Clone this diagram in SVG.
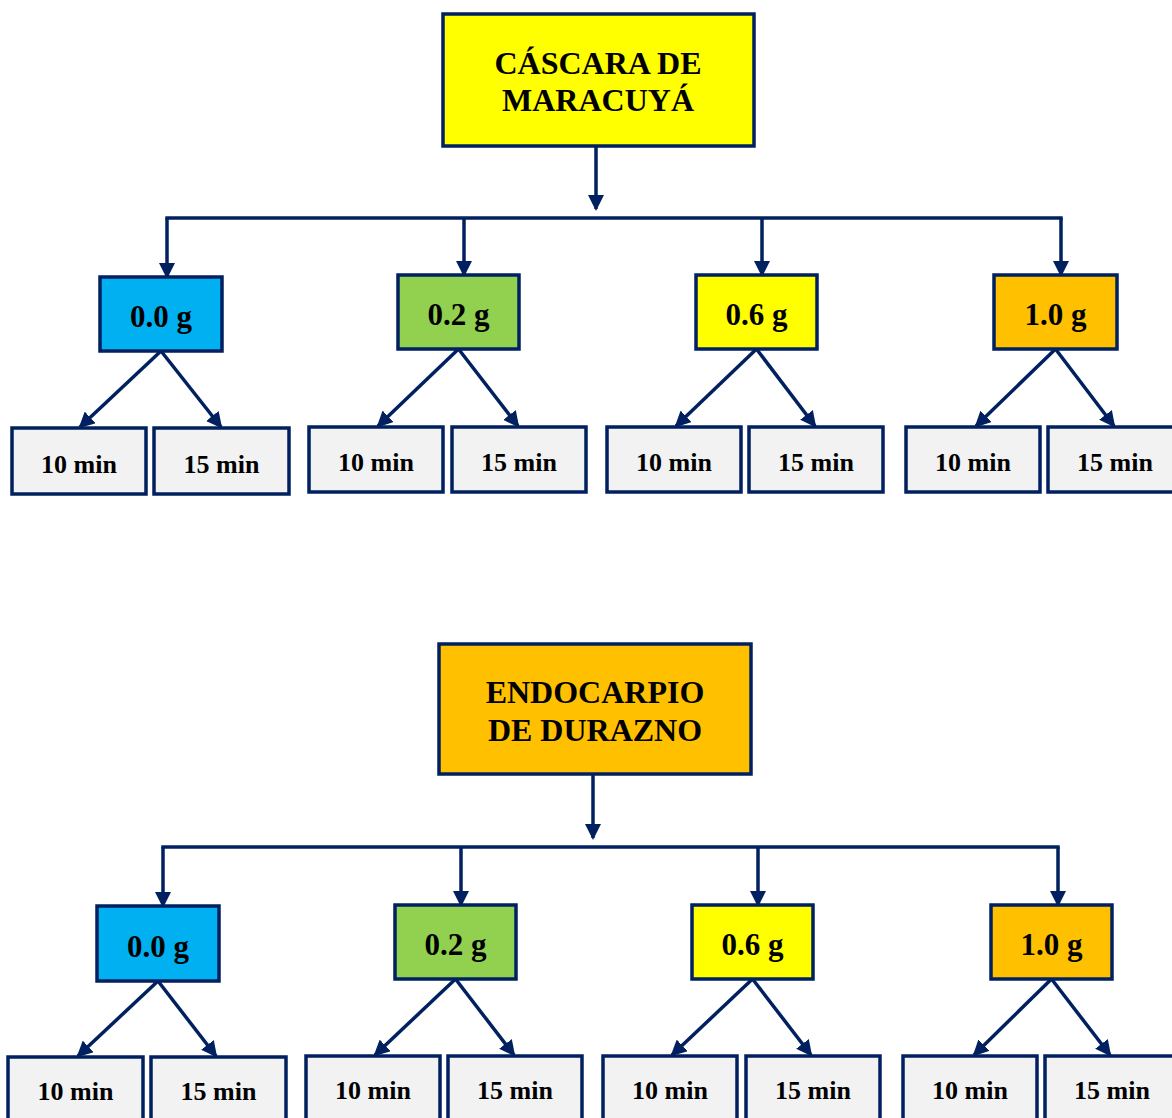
<svg xmlns="http://www.w3.org/2000/svg" width="1172" height="1118" viewBox="0 0 1172 1118">
<defs>
<marker id="ah" markerUnits="userSpaceOnUse" markerWidth="16" markerHeight="16" viewBox="0 0 16 16" refX="14" refY="8" orient="auto">
<path d="M0,0 L16,8 L0,16 z" fill="#002060"/>
</marker>
<style>
.bx{stroke:#002060;stroke-width:3.5}
.yel{fill:#FFFF00}.org{fill:#FFC000}.blu{fill:#00B0F0}.grn{fill:#92D050}.gry{fill:#F2F2F2}
.t{font-family:"Liberation Serif","Times New Roman",serif;font-weight:bold;fill:#000;text-anchor:middle}
.tt{font-size:32px}.tm{font-size:31px}.ts{font-size:26px}
.c line{stroke:#002060;stroke-width:3.5;fill:none}
.c .a{marker-end:url(#ah)}
</style>
</defs>
<rect width="1172" height="1118" fill="#fff"/>

<g class="c" id="connectors">
<line class="a" x1="596" y1="146" x2="596" y2="209"/>
<line x1="165.3" y1="218" x2="1062.7" y2="218"/>
<line class="a" x1="167" y1="218" x2="167" y2="277"/>
<line class="a" x1="464" y1="218" x2="464" y2="275"/>
<line class="a" x1="762" y1="218" x2="762" y2="275"/>
<line class="a" x1="1061" y1="218" x2="1061" y2="275"/>
<line class="a" x1="161" y1="351" x2="80" y2="427"/>
<line class="a" x1="161" y1="351" x2="221" y2="427"/>
<line class="a" x1="458.5" y1="349" x2="378" y2="426"/>
<line class="a" x1="458.5" y1="349" x2="518" y2="426"/>
<line class="a" x1="756.5" y1="349" x2="676" y2="426"/>
<line class="a" x1="756.5" y1="349" x2="815" y2="426"/>
<line class="a" x1="1055.5" y1="349" x2="976" y2="426"/>
<line class="a" x1="1055.5" y1="349" x2="1114" y2="426"/>

<line class="a" x1="593" y1="774" x2="593" y2="838"/>
<line x1="161.3" y1="847" x2="1059.7" y2="847"/>
<line class="a" x1="163" y1="847" x2="163" y2="906"/>
<line class="a" x1="461" y1="847" x2="461" y2="905"/>
<line class="a" x1="758" y1="847" x2="758" y2="905"/>
<line class="a" x1="1058" y1="847" x2="1058" y2="905"/>
<line class="a" x1="158" y1="981" x2="78" y2="1056"/>
<line class="a" x1="158" y1="981" x2="216" y2="1056"/>
<line class="a" x1="455.5" y1="979" x2="375" y2="1055"/>
<line class="a" x1="455.5" y1="979" x2="514" y2="1055"/>
<line class="a" x1="752.5" y1="979" x2="672" y2="1055"/>
<line class="a" x1="752.5" y1="979" x2="811" y2="1055"/>
<line class="a" x1="1051.5" y1="979" x2="974" y2="1055"/>
<line class="a" x1="1051.5" y1="979" x2="1110" y2="1055"/>
</g>

<g id="n-cascara"><rect class="bx yel" x="443" y="14" width="311" height="132"/>
<text class="t tt" x="598" y="74">CÁSCARA DE</text><text class="t tt" x="598" y="111">MARACUYÁ</text></g>

<g id="n-a00"><rect class="bx blu" x="100" y="277" width="122" height="74"/><text class="t tm" x="161" y="327">0.0 g</text></g>
<g id="n-a02"><rect class="bx grn" x="398" y="275" width="121" height="74"/><text class="t tm" x="458.5" y="325">0.2 g</text></g>
<g id="n-a06"><rect class="bx yel" x="696" y="275" width="121" height="74"/><text class="t tm" x="756.5" y="325">0.6 g</text></g>
<g id="n-a10"><rect class="bx org" x="994" y="275" width="123" height="74"/><text class="t tm" x="1055.5" y="325">1.0 g</text></g>

<g id="n-a00-10"><rect class="bx gry" x="12" y="428" width="134" height="66"/><text class="t ts" x="79" y="473">10 min</text></g>
<g id="n-a00-15"><rect class="bx gry" x="154" y="428" width="135" height="66"/><text class="t ts" x="221.5" y="473">15 min</text></g>
<g id="n-a02-10"><rect class="bx gry" x="309" y="427" width="134" height="65"/><text class="t ts" x="376" y="471">10 min</text></g>
<g id="n-a02-15"><rect class="bx gry" x="452" y="427" width="134" height="65"/><text class="t ts" x="519" y="471">15 min</text></g>
<g id="n-a06-10"><rect class="bx gry" x="607" y="427" width="134" height="65"/><text class="t ts" x="674" y="471">10 min</text></g>
<g id="n-a06-15"><rect class="bx gry" x="749" y="427" width="134" height="65"/><text class="t ts" x="816" y="471">15 min</text></g>
<g id="n-a10-10"><rect class="bx gry" x="906" y="427" width="134" height="65"/><text class="t ts" x="973" y="471">10 min</text></g>
<g id="n-a10-15"><rect class="bx gry" x="1048" y="427" width="134" height="65"/><text class="t ts" x="1115" y="471">15 min</text></g>

<g id="n-endocarpio"><rect class="bx org" x="439" y="644" width="312" height="130"/>
<text class="t tt" x="595" y="703">ENDOCARPIO</text><text class="t tt" x="595" y="741">DE DURAZNO</text></g>

<g id="n-b00"><rect class="bx blu" x="97" y="906" width="122" height="75"/><text class="t tm" x="158" y="957">0.0 g</text></g>
<g id="n-b02"><rect class="bx grn" x="395" y="905" width="121" height="74"/><text class="t tm" x="455.5" y="955">0.2 g</text></g>
<g id="n-b06"><rect class="bx yel" x="692" y="905" width="121" height="74"/><text class="t tm" x="752.5" y="955">0.6 g</text></g>
<g id="n-b10"><rect class="bx org" x="991" y="905" width="121" height="74"/><text class="t tm" x="1051.5" y="955">1.0 g</text></g>

<g id="n-b00-10"><rect class="bx gry" x="8" y="1057" width="135" height="70"/><text class="t ts" x="75.5" y="1100">10 min</text></g>
<g id="n-b00-15"><rect class="bx gry" x="151" y="1057" width="135" height="70"/><text class="t ts" x="218.5" y="1100">15 min</text></g>
<g id="n-b02-10"><rect class="bx gry" x="306" y="1056" width="134" height="70"/><text class="t ts" x="373" y="1099">10 min</text></g>
<g id="n-b02-15"><rect class="bx gry" x="448" y="1056" width="134" height="70"/><text class="t ts" x="515" y="1099">15 min</text></g>
<g id="n-b06-10"><rect class="bx gry" x="603" y="1056" width="134" height="70"/><text class="t ts" x="670" y="1099">10 min</text></g>
<g id="n-b06-15"><rect class="bx gry" x="746" y="1056" width="134" height="70"/><text class="t ts" x="813" y="1099">15 min</text></g>
<g id="n-b10-10"><rect class="bx gry" x="903" y="1056" width="134" height="70"/><text class="t ts" x="970" y="1099">10 min</text></g>
<g id="n-b10-15"><rect class="bx gry" x="1045" y="1056" width="134" height="70"/><text class="t ts" x="1112" y="1099">15 min</text></g>
</svg>
